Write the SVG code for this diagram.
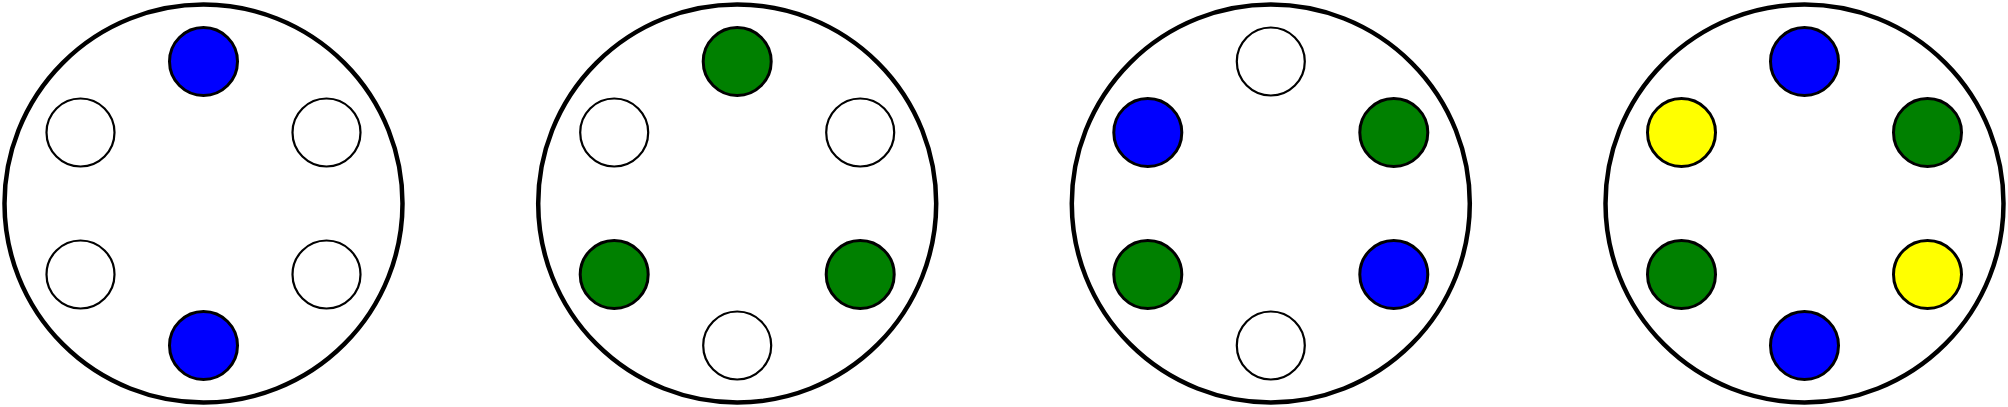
<svg xmlns="http://www.w3.org/2000/svg" width="2008" height="407" viewBox="0 0 2008 407">
<style>
.outer{fill:#fff;stroke:#000;stroke-width:4.5}
.dot{stroke:#000;stroke-width:3}
.empty{fill:#fff;stroke:#000;stroke-width:2.2}
.b{fill:#0000ff}.g{fill:#008000}.y{fill:#ffff00}
</style>
<rect width="2008" height="407" fill="#fff"/>
<g id="wheel1" transform="translate(203.5,203.5)">
<circle class="outer" r="199"/>
<circle class="dot b" cx="0" cy="-142" r="34"/>
<circle class="empty" cx="-123" cy="-71" r="34"/>
<circle class="empty" cx="123" cy="-71" r="34"/>
<circle class="empty" cx="-123" cy="71" r="34"/>
<circle class="empty" cx="123" cy="71" r="34"/>
<circle class="dot b" cx="0" cy="142" r="34"/>
</g>
<g id="wheel2" transform="translate(737.2,203.5)">
<circle class="outer" r="199"/>
<circle class="dot g" cx="0" cy="-142" r="34"/>
<circle class="empty" cx="-123" cy="-71" r="34"/>
<circle class="empty" cx="123" cy="-71" r="34"/>
<circle class="dot g" cx="-123" cy="71" r="34"/>
<circle class="dot g" cx="123" cy="71" r="34"/>
<circle class="empty" cx="0" cy="142" r="34"/>
</g>
<g id="wheel3" transform="translate(1270.8,203.5)">
<circle class="outer" r="199"/>
<circle class="empty" cx="0" cy="-142" r="34"/>
<circle class="dot b" cx="-123" cy="-71" r="34"/>
<circle class="dot g" cx="123" cy="-71" r="34"/>
<circle class="dot g" cx="-123" cy="71" r="34"/>
<circle class="dot b" cx="123" cy="71" r="34"/>
<circle class="empty" cx="0" cy="142" r="34"/>
</g>
<g id="wheel4" transform="translate(1804.5,203.5)">
<circle class="outer" r="199"/>
<circle class="dot b" cx="0" cy="-142" r="34"/>
<circle class="dot y" cx="-123" cy="-71" r="34"/>
<circle class="dot g" cx="123" cy="-71" r="34"/>
<circle class="dot g" cx="-123" cy="71" r="34"/>
<circle class="dot y" cx="123" cy="71" r="34"/>
<circle class="dot b" cx="0" cy="142" r="34"/>
</g>
</svg>
